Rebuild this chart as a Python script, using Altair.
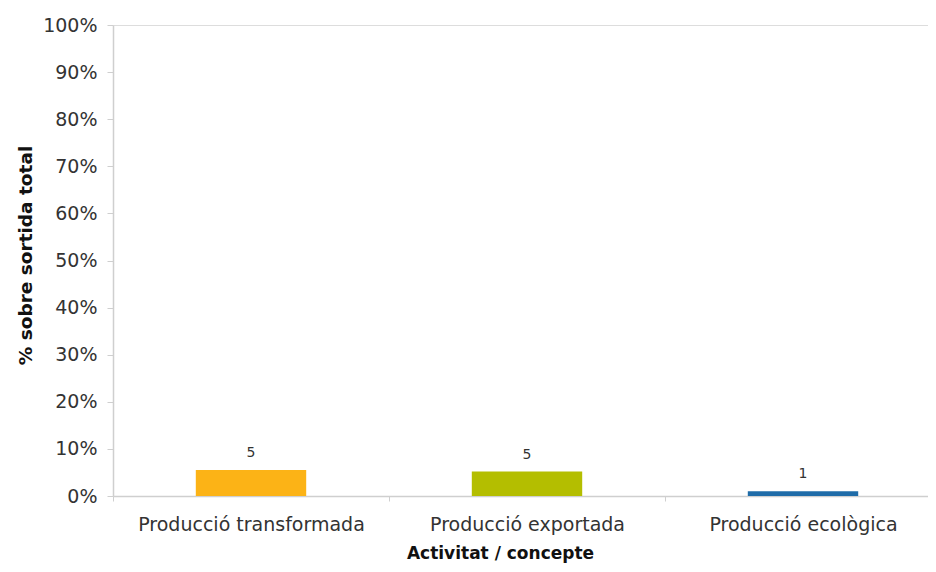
import altair as alt
import pandas as pd

categories = ["Producció transformada", "Producció exportada", "Producció ecològica"]
values_pct = [5.5, 5.2, 1.0]
labels = ["5", "5", "1"]
colors = ["#FCB316", "#B4BE00", "#1F6CA8"]
y_ticks = [0, 10, 20, 30, 40, 50, 60, 70, 80, 90, 100]

df = pd.DataFrame({"cat": categories, "val": values_pct, "lab": labels, "col": colors})

FONT = "DejaVu Sans"

x = alt.X(
    "cat:N",
    sort=categories,
    scale=alt.Scale(paddingInner=0, paddingOuter=0),
    axis=alt.Axis(
        title="Activitat / concepte",
        titleFont=FONT, titleFontSize=17, titleFontWeight="bold", titleColor="#111",
        titlePadding=11, titleX=387,
        labelFont=FONT, labelFontSize=19, labelColor="#333", labelAngle=0,
        labelPadding=14, labelLimit=0,
        domainColor="#cfcfcf", domainWidth=1.5,
        tickColor="#cfcfcf", tickSize=5, tickBand="extent",
    ),
)

y = alt.Y(
    "val:Q",
    scale=alt.Scale(domain=[0, 100], nice=False),
    axis=alt.Axis(
        title="% sobre sortida total",
        titleFont=FONT, titleFontSize=18.5, titleFontWeight="bold", titleColor="#111",
        titlePadding=7, titleY=230,
        values=y_ticks,
        labelExpr="datum.value + '%'",
        labelFont=FONT, labelFontSize=19, labelColor="#333",
        labelPadding=10,
        domainColor="#cfcfcf", domainWidth=1.5,
        tickColor="#cfcfcf", tickSize=6,
        grid=False,
    ),
)

bars = alt.Chart(df).mark_bar(width=alt.RelativeBandSize(0.4)).encode(
    x=x, y=y, color=alt.Color("col:N", scale=None)
)

text = alt.Chart(df).mark_text(
    dy=-10, font=FONT, fontSize=14, color="#333", baseline="bottom"
).encode(x=alt.X("cat:N", sort=categories), y="val:Q", text="lab:N")

chart = (bars + text).properties(
    width=828, height=471,
    autosize=alt.AutoSizeParams(type="none"),
    padding={"left": 105, "top": 17, "right": -13, "bottom": 68},
).configure_view(stroke=None).configure(background="white")

chart.save("out.html", embed_options={"renderer": "svg", "actions": False})
